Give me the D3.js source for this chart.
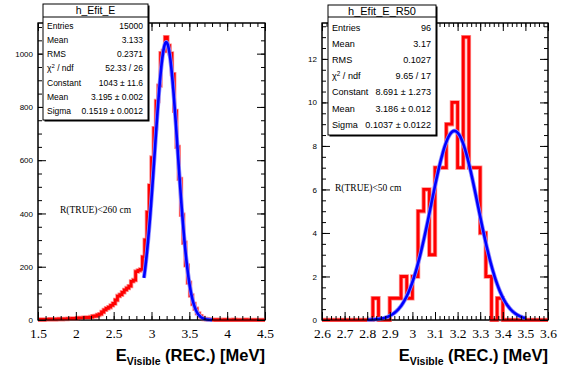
<!DOCTYPE html>
<html lang="en">
<head>
  <meta charset="UTF-8">
  <title>h_Efit_E</title>
  <script src="https://cdn.jsdelivr.net/npm/d3@7"></script>
  <style>
    body { margin: 0; background: #fff; }
    svg { display: block; }
  </style>
</head>
<body>
<svg id="chart" width="567" height="384"></svg>
<script>
  // h_Efit_E : 100 bins, 1.5 - 4.5
  const allRange = [1.5, 4.5];
  const allCounts = [
    1, 2, 1, 2, 2, 3, 2, 2, 3, 4,
    3, 4, 4, 5, 5, 6, 5, 7, 8, 8,
    9, 10, 9, 11, 14, 15, 19, 22, 30, 38,
    44, 48, 55, 62, 75, 90, 95, 104, 113, 120,
    127, 145, 150, 182, 186, 190, 237, 301, 405, 505,
    610, 720, 822, 880, 1002, 1010, 1062, 1030, 1001, 923,
    785, 650, 530, 395, 290, 205, 140, 92, 60, 42,
    25, 14, 8, 4, 3, 2, 1, 1, 0, 1,
    0, 0, 1, 0, 0, 0, 1, 0, 0, 0,
    0, 1, 0, 0, 0, 0, 0, 0, 0, 0
  ];
  const allFitPar = [1043, 3.195, 0.1519];
  const allFitRange = [2.9, 3.8];
  const allXLabels = ['1.5', '2', '2.5', '3', '3.5', '4', '4.5'];
  const allYLabels = ['0', '200', '400', '600', '800', '1000'];
  const allStatNames = ['Entries', 'Mean', 'RMS', 'chi2', 'Constant', 'Mean', 'Sigma'];
  const allStatValues = ['15000', '3.133', '0.2371', '52.33 / 26', '1043 ± 11.6', '3.195 ± 0.002', '0.1519 ± 0.0012'];

  // h_Efit_E_R50 : 40 bins, 2.6 - 3.6
  const r50Range = [2.6, 3.6];
  const r50Counts = [
    0, 0, 0, 0, 0, 0, 0, 0, 0, 1,
    0, 0, 1, 1, 2, 1, 2, 5, 6, 3,
    7, 7, 9, 10, 7, 13, 7, 7, 4, 2,
    0, 1, 0, 0, 0, 0, 0, 0, 0, 0
  ];
  const r50FitPar = [8.691, 3.186, 0.1037];
  const r50FitRange = [2.8, 3.5];
  const r50XLabels = ['2.6', '2.7', '2.8', '2.9', '3', '3.1', '3.2', '3.3', '3.4', '3.5', '3.6'];
  const r50YLabels = ['0', '2', '4', '6', '8', '10', '12'];
  const r50StatNames = ['Entries', 'Mean', 'RMS', 'chi2', 'Constant', 'Mean', 'Sigma'];
  const r50StatValues = ['96', '3.17', '0.1027', '9.65 / 17', '8.691 ± 1.273', '3.186 ± 0.012', '0.1037 ± 0.0122'];

  const svg = d3.select('#chart');
  const sans = '"Liberation Sans", Arial, Helvetica, sans-serif';
  const serif = '"Liberation Serif", "Times New Roman", serif';

  function steps(lo, hi, step) {
    const n = Math.round((hi - lo) / step);
    return d3.range(n + 1).map(i => lo + i * step);
  }

  function drawPanel(p) {
    const x = d3.scaleLinear().domain(p.range).range([p.left, p.right]);
    const y = d3.scaleLinear().domain([0, d3.max(p.counts) * 1.05]).range([p.bottom, p.top]);
    const g = svg.append('g');

    g.append('clipPath').attr('id', p.id + '-clip')
      .append('rect')
      .attr('x', p.left).attr('y', p.top)
      .attr('width', p.right - p.left).attr('height', p.bottom - p.top + 2);

    g.append('rect')
      .attr('x', p.left).attr('y', p.top)
      .attr('width', p.right - p.left).attr('height', p.bottom - p.top)
      .attr('fill', '#fff').attr('stroke', '#000');

    // histogram outline
    const bw = (p.range[1] - p.range[0]) / p.counts.length;
    const pts = [[p.range[0], 0]];
    p.counts.forEach((c, i) => {
      pts.push([p.range[0] + i * bw, c]);
      pts.push([p.range[0] + (i + 1) * bw, c]);
    });
    pts.push([p.range[1], 0]);
    const line = d3.line().x(d => x(d[0])).y(d => y(d[1]));

    const plot = g.append('g').attr('clip-path', `url(#${p.id}-clip)`);
    plot.append('path').attr('d', line(pts))
      .attr('fill', 'none').attr('stroke', '#ff8c8c').attr('stroke-width', 4.4);
    plot.append('path').attr('d', line(pts))
      .attr('fill', 'none').attr('stroke', '#ff0000').attr('stroke-width', 2.8);

    // gaussian fit
    const [c0, mu, sig] = p.fit;
    const fitPts = steps(p.fitRange[0], p.fitRange[1], (p.fitRange[1] - p.fitRange[0]) / 200)
      .map(v => [v, c0 * Math.exp(-0.5 * ((v - mu) / sig) ** 2)]);
    const fitLine = d3.line().x(d => x(d[0])).y(d => y(d[1]));
    plot.append('path').attr('d', fitLine(fitPts))
      .attr('fill', 'none').attr('stroke', '#8c8cff').attr('stroke-width', 4.2);
    plot.append('path').attr('d', fitLine(fitPts))
      .attr('fill', 'none').attr('stroke', '#0000ff').attr('stroke-width', 2.6);

    g.append('rect')
      .attr('x', p.left).attr('y', p.top)
      .attr('width', p.right - p.left).attr('height', p.bottom - p.top)
      .attr('fill', 'none').attr('stroke', '#000');

    // ticks
    const xMajor = p.xLabels.map(Number);
    const yMajor = p.yLabels.map(Number);
    const xMinor = steps(p.range[0], p.range[1], p.xMinor);
    const yMinor = steps(0, y.domain()[1], p.yMinor).filter(v => v <= y.domain()[1]);
    const clean = s => s.call(a => a.select('.domain').remove())
      .selectAll('line').attr('stroke', '#000');

    g.append('g').attr('transform', `translate(0,${p.bottom})`)
      .call(d3.axisBottom(x).tickValues(xMinor).tickSize(-4).tickFormat('')).call(clean);
    g.append('g').attr('transform', `translate(0,${p.top})`)
      .call(d3.axisTop(x).tickValues(xMinor).tickSize(-4).tickFormat('')).call(clean);
    g.append('g').attr('transform', `translate(0,${p.top})`)
      .call(d3.axisTop(x).tickValues(xMajor).tickSize(-8).tickFormat('')).call(clean);
    const xb = g.append('g').attr('transform', `translate(0,${p.bottom})`)
      .call(d3.axisBottom(x).tickValues(xMajor).tickSize(-8).tickPadding(8)
        .tickFormat((d, i) => p.xLabels[i]));
    xb.call(clean);
    xb.attr('font-family', serif).attr('font-size', 13.5);
    xb.selectAll('text').attr('fill', '#000');

    g.append('g').attr('transform', `translate(${p.left},0)`)
      .call(d3.axisLeft(y).tickValues(yMinor).tickSize(-4).tickFormat('')).call(clean);
    g.append('g').attr('transform', `translate(${p.right},0)`)
      .call(d3.axisRight(y).tickValues(yMinor).tickSize(-4).tickFormat('')).call(clean);
    g.append('g').attr('transform', `translate(${p.right},0)`)
      .call(d3.axisRight(y).tickValues(yMajor).tickSize(-8).tickFormat('')).call(clean);
    const yl = g.append('g').attr('transform', `translate(${p.left},0)`)
      .call(d3.axisLeft(y).tickValues(yMajor).tickSize(-8).tickPadding(5)
        .tickFormat((d, i) => p.yLabels[i]));
    yl.call(clean);
    yl.attr('font-family', sans).attr('font-size', 8);
    yl.selectAll('text').attr('fill', '#000');

    // axis title
    const t = g.append('text')
      .attr('x', p.right).attr('y', 361)
      .attr('text-anchor', 'end')
      .attr('font-family', sans).attr('font-weight', 'bold').attr('font-size', 16.5);
    t.append('tspan').text('E');
    t.append('tspan').attr('font-size', 10.5).attr('dy', 4).text('Visible');
    t.append('tspan').attr('dy', -4).text(' (REC.) [MeV]');

    // cut note
    g.append('text')
      .attr('x', p.noteX).attr('y', p.noteY)
      .attr('font-family', serif).attr('font-size', 9.5)
      .text(p.note);
  }

  function drawStats(b) {
    const g = svg.append('g').attr('font-family', sans).attr('fill', '#000');
    g.append('rect')
      .attr('x', b.x0 + 1.5).attr('y', b.y0 + 1.5)
      .attr('width', b.x1 - b.x0).attr('height', b.y1 - b.y0)
      .attr('fill', '#000');
    g.append('rect')
      .attr('x', b.x0).attr('y', b.y0)
      .attr('width', b.x1 - b.x0).attr('height', b.y1 - b.y0)
      .attr('fill', '#fff').attr('stroke', '#000');
    g.append('line')
      .attr('x1', b.x0).attr('x2', b.x1).attr('y1', b.ySep).attr('y2', b.ySep)
      .attr('stroke', '#000');
    g.append('text')
      .attr('x', (b.x0 + b.x1) / 2).attr('y', (b.y0 + b.ySep) / 2)
      .attr('dy', '0.35em').attr('text-anchor', 'middle')
      .attr('font-size', b.titleSize)
      .text(b.title);

    const row = d3.scalePoint().domain(d3.range(b.names.length))
      .range([b.ySep, b.y1]).padding(0.65);
    b.names.forEach((name, i) => {
      const lab = g.append('text')
        .attr('x', b.x0 + 4).attr('y', row(i)).attr('dy', '0.35em')
        .attr('font-size', b.size);
      if (name === 'chi2') {
        lab.append('tspan').text('χ');
        lab.append('tspan').attr('font-size', b.size * 0.7).attr('dy', -3).text('2');
        lab.append('tspan').attr('dy', 3).text(' / ndf');
      } else {
        lab.text(name);
      }
      g.append('text')
        .attr('x', b.x1 - 5).attr('y', row(i)).attr('dy', '0.35em')
        .attr('text-anchor', 'end').attr('font-size', b.size)
        .text(b.values[i]);
    });
  }

  drawPanel({
    id: 'all', range: allRange, counts: allCounts, fit: allFitPar, fitRange: allFitRange,
    xLabels: allXLabels, yLabels: allYLabels, xMinor: 0.1, yMinor: 50,
    left: 38, right: 265, top: 23, bottom: 320,
    note: 'R(TRUE)<260 cm', noteX: 60, noteY: 213
  });
  drawPanel({
    id: 'r50', range: r50Range, counts: r50Counts, fit: r50FitPar, fitRange: r50FitRange,
    xLabels: r50XLabels, yLabels: r50YLabels, xMinor: 0.02, yMinor: 0.5,
    left: 322, right: 548, top: 23, bottom: 320,
    note: 'R(TRUE)<50 cm', noteX: 335, noteY: 191
  });

  drawStats({
    title: 'h_Efit_E', names: allStatNames, values: allStatValues,
    x0: 43, x1: 148, y0: 4, ySep: 17, y1: 120, size: 8.5, titleSize: 10.5
  });
  drawStats({
    title: 'h_Efit_E_R50', names: r50StatNames, values: r50StatValues,
    x0: 328, x1: 436, y0: 5, ySep: 17, y1: 135, size: 9.1, titleSize: 11
  });
</script>
</body>
</html>
